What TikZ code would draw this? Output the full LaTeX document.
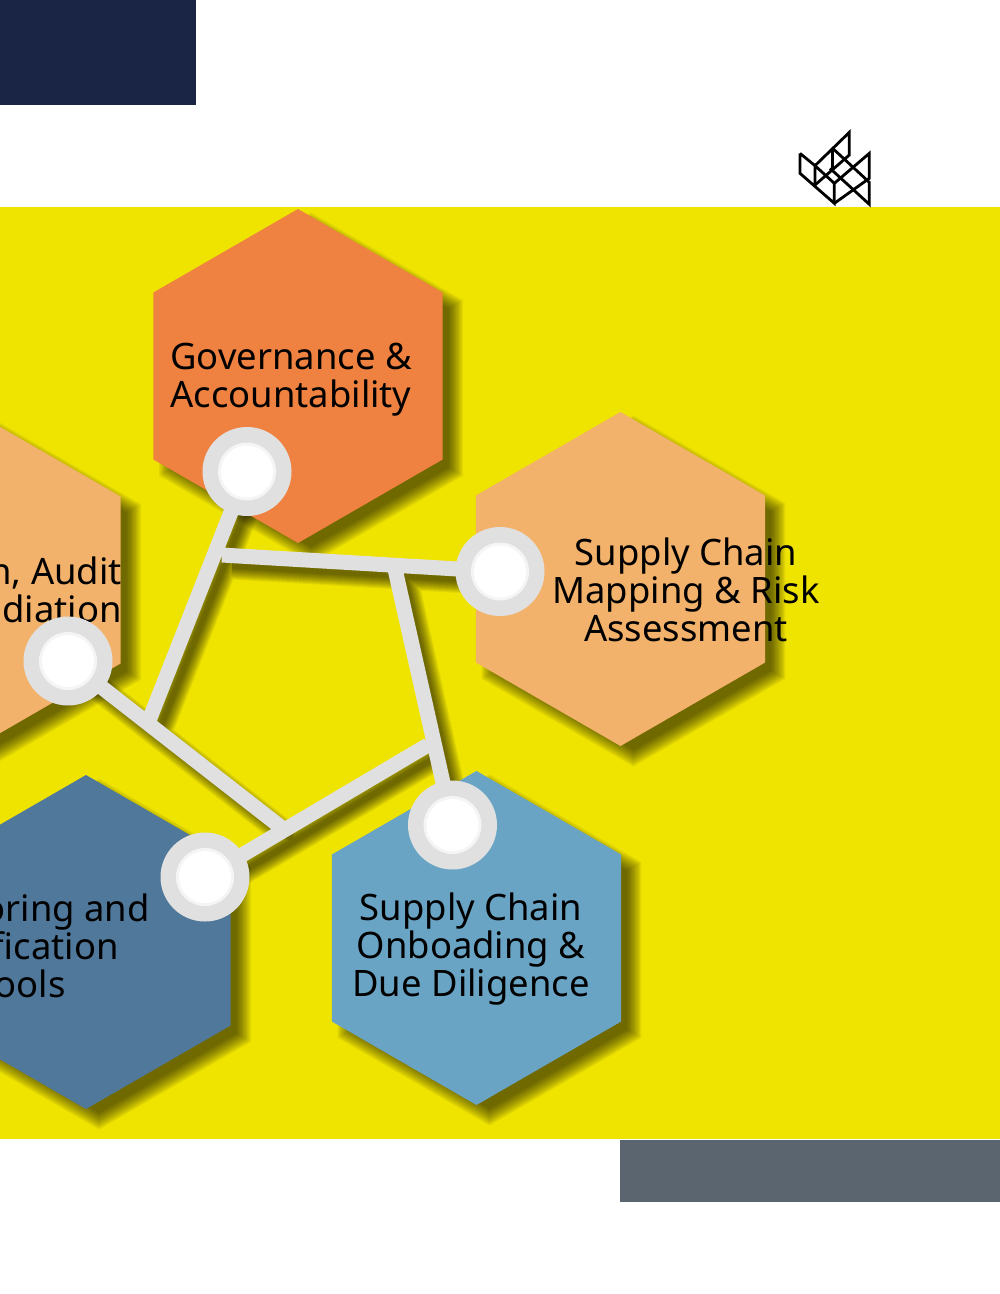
\documentclass[tikz,border=0pt]{standalone}
\usepackage{fontspec}
\setmainfont{Noto Sans}
\usetikzlibrary{shapes.geometric,calc}
\definecolor{navy}{HTML}{1A2546}
\definecolor{yellowbg}{HTML}{EFE300}
\definecolor{slate}{HTML}{5A6570}
\definecolor{hexorange}{HTML}{EF8240}
\definecolor{hexpeach}{HTML}{F3B26B}
\definecolor{hexdark}{HTML}{50789B}
\definecolor{hexlight}{HTML}{6AA4C4}
\definecolor{ring}{HTML}{E0E0E0}
\definecolor{core}{HTML}{F5F5F5}
\tikzset{
  hexa/.style={regular polygon,regular polygon sides=6,shape border rotate=30,inner sep=0pt,outer sep=0pt,minimum size=334pt},
  hexshade/.style={regular polygon,regular polygon sides=6,shape border rotate=30,inner sep=0pt,outer sep=0pt,fill=black,fill opacity=0.06,minimum size=#1},
  label/.style={font=\fontsize{36.4}{38}\selectfont,text=black,align=center,inner sep=0pt},
  linkline/.style={draw=ring,line width=15pt},
  ringnode/.style={circle,fill=ring,inner sep=0pt,minimum size=89pt},
  corenode/.style={circle,fill=core,inner sep=0pt,minimum size=58pt},
  whitenode/.style={circle,fill=white,inner sep=0pt,minimum size=52pt},
  logoline/.style={draw=black,line width=2.8pt,line join=miter}
}
\begin{document}
\begin{tikzpicture}[x=1pt,y=-1pt]
\useasboundingbox (0,0) rectangle (1000,1294);
\fill[white] (0,0) rectangle (1000,1294);
\fill[navy] (0,0) rectangle (196,105);
\fill[yellowbg] (0,207) rectangle (1000,1139);
\fill[slate] (620,1140) rectangle (1000,1202);
% logo
\begin{scope}[shift={(790,125)},x=0.3333pt,y=-0.3333pt]
\draw[logoline] (30,85) -- (75,122) -- (75,180) (30,85) -- (30,145) -- (133,235) -- (133,175) -- (75,122);
\draw[logoline] (75,122) -- (178,22) -- (178,90) -- (75,180);
\draw[logoline] (128,70) -- (128,130);
\draw[logoline] (128,70) -- (238,172) -- (238,238) -- (120,130);
\draw[logoline] (133,235) -- (238,160) -- (238,85) -- (133,175);
\end{scope}
% hexagon shadows
\foreach \c in {(311,388),(633.5,591),(-11,592),(99,954),(489.5,950)}{
  \foreach \s in {318,321,324,327,330,333,336,339,342,345,348,351}{
    \node[hexshade=\s pt] at \c {};
  }
}
% connector coordinates
\coordinate (cg) at (247,471.5);
\coordinate (cm) at (500,571.5);
\coordinate (ca) at (68,661);
\coordinate (cd) at (205,877);
\coordinate (cl) at (452.5,825);
\coordinate (ja) at (150,718);
\coordinate (jb) at (282,828);
\coordinate (jc) at (428,745);
\coordinate (jd) at (395,569);
\coordinate (je) at (222,555);
\foreach \p in {cg,cm,ca,cd,cl,ja,jb,jc,jd,je}{
  \coordinate (s\p) at ($(\p)+(10,11)$);
}
% connector shadows
\foreach \w in {5,7,9,11,13,15,17,19,21,23,25,27}{
  \draw[black,opacity=0.06,line width=\w pt] (scg) -- (sja) (sca) -- (sjb) (scd) -- (sjc) (scl) -- (sjd) (scm) -- (sje);
}
% hexagons
\node[hexa,fill=hexorange] (hg) at (298,376) {};
\node[hexa,fill=hexpeach] (hm) at (620.5,579) {};
\node[hexa,fill=hexpeach] (ha) at (-24,580) {};
\node[hexa,fill=hexdark] (hd) at (86,942) {};
\node[hexa,fill=hexlight] (hl) at (476.5,938) {};
% connectors
\draw[linkline] (cg) -- (ja) (ca) -- (jb) (cd) -- (jc) (cl) -- (jd) (cm) -- (je);
% text
\node[label] (tg) at (291,380) {Governance \&\\Accountability};
\node[label] (tm) at (686,590) {Supply Chain\\Mapping \& Risk\\Assessment};
\node[label] (tl) at (471,949) {Supply Chain\\Onboading \&\\Due Diligence};
\node[label,anchor=base east] (ta1) at (122,584) {n, Audit};
\node[label,anchor=base east] (ta2) at (122,622) {diation};
\node[label,anchor=base east] (td1) at (150,921) {oring and};
\node[label,anchor=base east] (td2) at (119,959) {fication};
\node[label,anchor=base east] (td3) at (66,997) {ools};
% rings
\foreach \n in {g,m,a,d,l}{
  \node[ringnode] (r\n) at (c\n) {};
  \node[corenode] (k\n) at (c\n) {};
  \node[whitenode] (w\n) at (c\n) {};
}
\end{tikzpicture}
\end{document}
